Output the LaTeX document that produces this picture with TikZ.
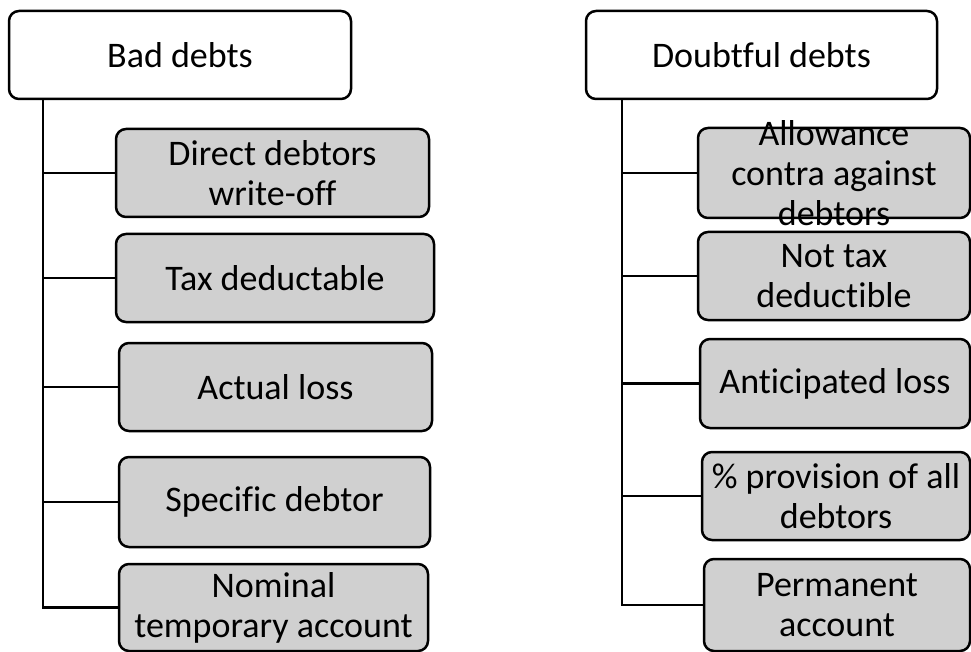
\documentclass[tikz,border=0pt]{standalone}
\usepackage{fontspec}
\setmainfont{Carlito}[Ligatures=NoCommon]
\usepackage{tikz}
\usetikzlibrary{positioning}
\definecolor{boxgray}{RGB}{208,208,208}

\begin{document}
\begin{tikzpicture}[x=1pt,y=-1pt,line width=2.5pt,
		head/.style={rectangle,rounded corners=10pt,draw=black,fill=white,minimum width=#1,minimum height=88pt,inner sep=0pt,font=\fontsize{36}{40}\selectfont},
		item/.style={rectangle,rounded corners=10pt,draw=black,fill=boxgray,minimum width=#1,minimum height=88pt,inner sep=0pt,align=center,font=\fontsize{36}{40}\selectfont}]
		\useasboundingbox (0,0) rectangle (971,652);
		
		% bad debts
		\node[head=342pt] (bad)  at (180,55)    {Bad debts};
		\node[item=313pt] (bd1)  at (272.5,173) {Direct debtors\\write-off};
		\node[item=318pt] (bd2)  at (275,278)   {Tax deductable};
		\node[item=313pt] (bd3)  at (275.5,387) {Actual loss};
		\node[item=311pt,minimum height=90pt] (bd4) at (274.5,502) {Specific debtor};
		\node[item=309pt,minimum height=87pt] (bd5) at (273.5,607.5) {Nominal\\temporary account};
		\coordinate (lt) at (43,99);
		
		% doubtful debts
		\node[head=351pt] (doubt) at (761.5,55) {Doubtful debts};
		\node[item=272pt,minimum height=90pt,
		      label={[align=center,font=\fontsize{36}{40}\selectfont]center:Allowance\\contra against\\debtors}] (dd1) at (834,173) {};
		\node[item=272pt] (dd2)  at (834,276)   {Not tax\\deductible};
		\node[item=270pt,minimum height=89pt] (dd3) at (835,383.5) {Anticipated loss};
		\node[item=268pt] (dd4)  at (836,496)   {\% provision of all\\debtors};
		\node[item=266pt,minimum height=92pt] (dd5) at (837,605) {Permanent\\account};
		\coordinate (rt) at (622,99);
		
		\draw (lt) |- (bd5.west);
		\foreach \n in {bd1,bd2,bd3,bd4}
			\draw (lt |- \n.west) -- (\n.west);
		\draw (rt) |- (dd5.west);
		\foreach \n in {dd1,dd2,dd3,dd4}
			\draw (rt |- \n.west) -- (\n.west);
\end{tikzpicture}
\end{document}
